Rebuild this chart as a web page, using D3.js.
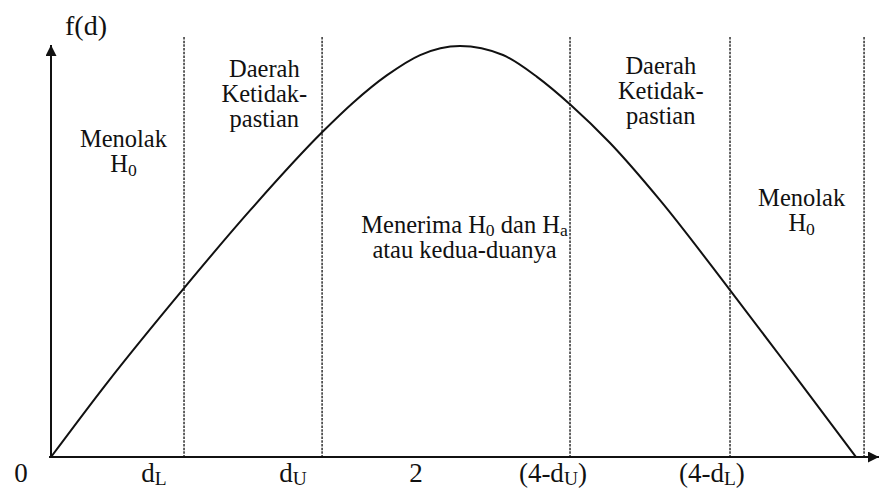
<!DOCTYPE html>
<html>
<head>
<meta charset="utf-8">
<script src="https://cdn.jsdelivr.net/npm/d3@7"></script>
<style>
  body { margin: 0; background: #fff; }
  svg text { font-family: "Liberation Serif", "Times New Roman", serif; fill: #111; }
</style>
</head>
<body>
<div id="chart"></div>
<script>
// curve f(d)
const curveD = [0, 0.278, 0.661, 0.989, 1.347, 1.501, 1.67, 1.834, 2.032, 2.246, 2.415, 2.584, 2.778, 3.026, 3.374, 3.687, 4.0];
const curveF = [0, 0.18, 0.411, 0.6, 0.79, 0.862, 0.929, 0.978, 1.0, 0.978, 0.925, 0.856, 0.764, 0.625, 0.406, 0.204, 0];

// dashed region borders (d units)
const borders = [0.661, 1.347, 2.579, 3.374, 4.04];

// labels under the axis
const tickLabels = ["0", "d_{L}", "d_{U}", "2", "(4-d_{U})", "(4-d_{L})"];
const tickPos = [-0.149, 0.512, 1.203, 1.814, 2.494, 3.284];

// region texts
const regionLines = [
  ["Menolak", "H_{0}"],
  ["Daerah", "Ketidak-", "pastian"],
  ["Menerima H_{0} dan H_{a}", "atau kedua-duanya"],
  ["Daerah", "Ketidak-", "pastian"],
  ["Menolak", "H_{0}"]
];
const regionD = [0.36, 1.06, 2.055, 3.03, 3.73];
const regionF = [0.754, 0.925, 0.545, 0.932, 0.61];

const w = 879;
const h = 488;

const x = d3.scaleLinear().domain([0, 4]).range([51, 856]);
const y = d3.scaleLinear().domain([0, 1]).range([457, 46]);

const svg = d3.select("#chart").append("svg").attr("width", w).attr("height", h);

const defs = svg.append("defs");
defs.append("marker")
  .attr("id", "arrow")
  .attr("viewBox", "0 0 10 10")
  .attr("refX", 10)
  .attr("refY", 5)
  .attr("markerWidth", 14)
  .attr("markerHeight", 11)
  .attr("markerUnits", "userSpaceOnUse")
  .attr("orient", "auto")
  .append("path")
  .attr("d", "M0,0 L10,5 L0,10 Z")
  .attr("fill", "#111");

// writes "a_{b}" strings as text with subscripts
function richText(sel, str, size, shift) {
  const parts = str.split(/(_\{[^}]*\})/).filter((s) => s !== "");
  let down = false;
  parts.forEach((p) => {
    if (p.startsWith("_{")) {
      sel.append("tspan").attr("font-size", size * 0.72).attr("dy", size * shift).text(p.slice(2, -1));
      down = true;
    } else {
      sel.append("tspan").attr("dy", down ? -size * shift : 0).text(p);
      down = false;
    }
  });
}

// dashed borders
svg.append("g")
  .selectAll("line")
  .data(borders)
  .enter()
  .append("line")
  .attr("x1", (d) => x(d))
  .attr("x2", (d) => x(d))
  .attr("y1", y(1.022))
  .attr("y2", y(0))
  .attr("stroke", "#111")
  .attr("stroke-width", 1.3)
  .attr("stroke-dasharray", "2.5,1.2");

// axes
svg.append("line")
  .attr("x1", x(0)).attr("y1", y(0))
  .attr("x2", x(0)).attr("y2", 45)
  .attr("stroke", "#111").attr("stroke-width", 2)
  .attr("marker-end", "url(#arrow)");
svg.append("line")
  .attr("x1", x(0) - 2).attr("y1", y(0))
  .attr("x2", 879).attr("y2", y(0))
  .attr("stroke", "#111").attr("stroke-width", 2)
  .attr("marker-end", "url(#arrow)");

// curve
const pts = curveD.map((d, i) => [d, curveF[i]]);
svg.append("path")
  .datum(pts)
  .attr("fill", "none")
  .attr("stroke", "#111")
  .attr("stroke-width", 2)
  .attr("d", d3.line().x((d) => x(d[0])).y((d) => y(d[1])).curve(d3.curveMonotoneX));

// y title
svg.append("text")
  .attr("x", 86)
  .attr("y", 35)
  .attr("text-anchor", "middle")
  .attr("font-size", 28)
  .text("f(d)");

// tick labels
tickLabels.forEach((t, i) => {
  const tx = svg.append("text")
    .attr("x", x(tickPos[i]))
    .attr("y", y(0) + 25)
    .attr("text-anchor", "middle")
    .attr("font-size", 27);
  richText(tx, t, 27, 0.1);
});

// region labels
regionLines.forEach((lines, i) => {
  lines.forEach((ln, j) => {
    const tx = svg.append("text")
      .attr("x", x(regionD[i]))
      .attr("y", y(regionF[i]) + j * 25)
      .attr("text-anchor", "middle")
      .attr("font-size", 24.5);
    richText(tx, ln, 24.5, 0.14);
  });
});
</script>
</body>
</html>
